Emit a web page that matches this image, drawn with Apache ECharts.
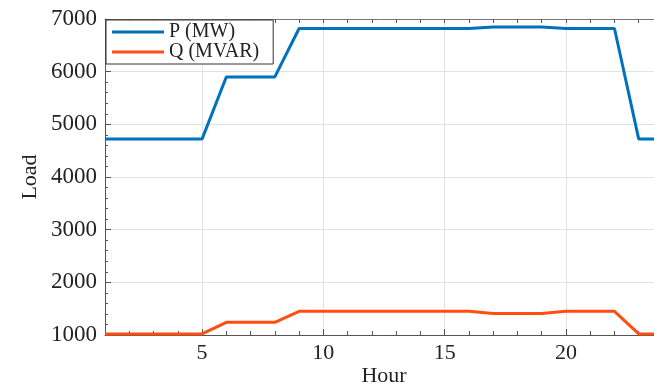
<!DOCTYPE html>
<html>
<head>
<meta charset="utf-8">
<script src="https://cdn.jsdelivr.net/npm/echarts@6/dist/echarts.min.js"></script>
<style>
  html, body { margin: 0; padding: 0; background: #fff; }
  #chart { width: 654px; height: 385px; }
</style>
</head>
<body>
<div id="chart"></div>
<script>
// hourly load
const hours = [1,2,3,4,5,6,7,8,9,10,11,12,13,14,15,16,17,18,19,20,21,22,23,24]
const pLoad = [4720,4720,4720,4720,4720,5900,5900,5900,6820,6820,6820,6820,6820,6820,6820,6820,6850,6850,6850,6820,6820,6820,4720,4720]
const qLoad = [1020,1020,1020,1020,1020,1240,1240,1240,1450,1450,1450,1450,1450,1450,1450,1450,1410,1410,1410,1450,1450,1450,1020,1020]
const xLabels = [5,10,15,20]

const serif = 'Liberation Serif'
let chart = echarts.init(document.getElementById('chart'))

let option = {
    animation: false,
    grid: { left: 105, top: 19, width: 558, height: 316, outerBoundsMode: 'none', containLabel: false },
    legend: {
        left: 106, top: 20,
        orient: 'vertical',
        backgroundColor: '#fff',
        borderColor: '#333',
        borderWidth: 1,
        padding: [2, 14, 2, 6],
        itemGap: 0,
        itemWidth: 52,
        itemHeight: 3,
        icon: 'rect',
        textStyle: { fontFamily: serif, fontSize: 20, color: '#222', lineHeight: 20 }
    },
    xAxis: [
        {
            type: 'value', min: 1, max: 24,
            name: 'Hour', nameLocation: 'middle', nameGap: 30, nameMoveOverlap: false,
            nameTextStyle: { fontFamily: serif, fontSize: 22, color: '#222' },
            axisLine: { lineStyle: { color: '#555', width: 1 } },
            axisTick: { show: true, inside: true, length: 6, customValues: xLabels, lineStyle: { color: '#555' } },
            axisLabel: { customValues: xLabels, fontFamily: serif, fontSize: 22, color: '#222', margin: 7 },
            splitLine: { show: true, lineStyle: { color: '#e2e2e2', width: 1 } }
        },
        {
            // hour ticks along the bottom
            type: 'value', min: 1, max: 24, interval: 1, position: 'bottom',
            axisLine: { show: false },
            axisTick: { show: true, inside: true, length: 4, lineStyle: { color: '#555' } },
            axisLabel: { show: false },
            splitLine: { show: false }
        },
        {
            // top frame with hour ticks
            type: 'value', min: 1, max: 24, interval: 1, position: 'top',
            axisLine: { show: true, lineStyle: { color: '#777', width: 1 } },
            axisTick: { show: true, inside: true, length: 4, lineStyle: { color: '#555' } },
            axisLabel: { show: false },
            splitLine: { show: false }
        }
    ],
    yAxis: {
        type: 'value', min: 1000, max: 7000, interval: 1000,
        name: 'Load', nameLocation: 'middle', nameGap: 64, nameRotate: 90, nameMoveOverlap: false,
        nameTextStyle: { fontFamily: serif, fontSize: 22, color: '#222' },
        axisLine: { show: true, lineStyle: { color: '#555', width: 1 } },
        axisTick: { show: true, inside: true, length: 6, lineStyle: { color: '#555' } },
        minorTick: { show: true, splitNumber: 5, length: 3, lineStyle: { color: '#555' } },
        axisLabel: { fontFamily: serif, fontSize: 23, color: '#222', margin: 8, formatter: v => String(v) },
        splitLine: { show: true, lineStyle: { color: '#e2e2e2', width: 1 } }
    },
    series: [
        {
            name: 'P (MW)', type: 'line',
            data: hours.map((h, i) => [h, pLoad[i]]),
            showSymbol: false,
            lineStyle: { color: '#0072BD', width: 3 },
            itemStyle: { color: '#0072BD' }
        },
        {
            name: 'Q (MVAR)', type: 'line',
            data: hours.map((h, i) => [h, qLoad[i]]),
            showSymbol: false,
            lineStyle: { color: '#FF4F10', width: 3 },
            itemStyle: { color: '#FF4F10' }
        }
    ]
}
chart.setOption(option)
</script>
</body>
</html>
